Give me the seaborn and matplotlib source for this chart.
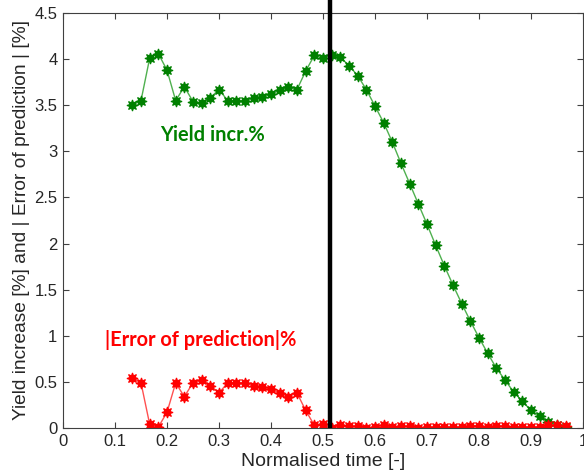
import numpy as np
import matplotlib
matplotlib.use("Agg")
import matplotlib.pyplot as plt
import seaborn as sns
import pandas as pd

# Normalised time grid (steps of 1/60)
time = np.round(np.arange(8, 59) / 60, 4)

# Yield increase [%]
yield_incr = [3.50, 3.55, 4.01, 4.06, 3.88, 3.55, 3.70, 3.54, 3.52, 3.58,
              3.67, 3.55, 3.55, 3.55, 3.58, 3.59, 3.62, 3.66, 3.70, 3.67,
              3.87, 4.04, 4.01, 4.05, 4.02, 3.93, 3.82, 3.67, 3.49, 3.31,
              3.10, 2.87, 2.65, 2.43, 2.21, 1.98, 1.76, 1.55, 1.35, 1.16,
              0.98, 0.81, 0.65, 0.52, 0.39, 0.29, 0.19, 0.13, 0.07, 0.03,
              0.01]

# |Error of prediction| [%]
pred_error = [0.54, 0.49, 0.04, 0.01, 0.17, 0.49, 0.34, 0.49, 0.52, 0.46,
              0.38, 0.49, 0.49, 0.49, 0.46, 0.445, 0.42, 0.38, 0.34, 0.38,
              0.19, 0.03, 0.04, 0.00, 0.03, 0.02, 0.02, 0.00, 0.01, 0.03,
              0.01, 0.02, 0.02, 0.00, 0.01, 0.01, 0.01, 0.01, 0.01, 0.025,
              0.025, 0.01, 0.025, 0.02, 0.01, 0.01, 0.01, 0.01, 0.03, 0.03,
              0.025]

split_time = 0.514

x_ticks = [0, 0.1, 0.2, 0.3, 0.4, 0.5, 0.6, 0.7, 0.8, 0.9, 1]
x_tick_labels = ["0", "0.1", "0.2", "0.3", "0.4", "0.5", "0.6", "0.7", "0.8", "0.9", "1"]
y_ticks = [0, 0.5, 1, 1.5, 2, 2.5, 3, 3.5, 4, 4.5]
y_tick_labels = ["0", "0.5", "1", "1.5", "2", "2.5", "3", "3.5", "4", "4.5"]

df = pd.DataFrame({"time": time, "yield": yield_incr, "error": pred_error})

sns.set_style("white")
plt.rcParams["font.family"] = ["Liberation Sans", "DejaVu Sans"]

fig = plt.figure(figsize=(5.84, 4.76), dpi=100)
ax = fig.add_axes([63 / 584, 1 - 428 / 476, 520 / 584, 415 / 476])

star = (8, 1, 0)
sns.lineplot(data=df, x="time", y="yield", ax=ax, color="#4fb04f", linewidth=1.0,
             marker=star, markersize=8, markerfacecolor="#008000",
             markeredgecolor="#008000", markeredgewidth=0.8)
sns.lineplot(data=df, x="time", y="error", ax=ax, color="#ff5050", linewidth=1.0,
             marker=star, markersize=8, markerfacecolor="#ff0000",
             markeredgecolor="#ff0000", markeredgewidth=0.8)

ax.plot([split_time, split_time], [0, 5.0], color="black", linewidth=3.2,
        clip_on=False, zorder=5, solid_capstyle="butt")

ax.set_xlim(0, 1)
ax.set_ylim(0, 4.5)
ax.set_xticks(x_ticks)
ax.set_xticklabels(x_tick_labels)
ax.set_yticks(y_ticks)
ax.set_yticklabels(y_tick_labels)
ax.tick_params(direction="in", length=4, width=0.8, color="#404040",
               labelsize=12, labelcolor="#262626", top=True, right=True,
               bottom=True, left=True, pad=4)
for s in ax.spines.values():
    s.set_color("#404040")
    s.set_linewidth(0.8)
    s.set_visible(True)

ax.set_xlabel("Normalised time [-]", fontsize=14, color="#262626", labelpad=3)
ax.set_ylabel("Yield increase [%] and | Error of prediction | [%]", fontsize=13.8,
              color="#262626", labelpad=3)

ax.text(0.287, 3.18, "Yield incr.%", color="#008000", fontsize=14.4,
        fontweight="bold", family=["Lato", "DejaVu Sans"], ha="center", va="center")
ax.text(0.08, 0.95, "|Error of prediction|%", color="#ff0000", fontsize=14.4,
        fontweight="bold", family=["Lato", "DejaVu Sans"], ha="left", va="center")

fig.savefig("out.png", dpi=100)
